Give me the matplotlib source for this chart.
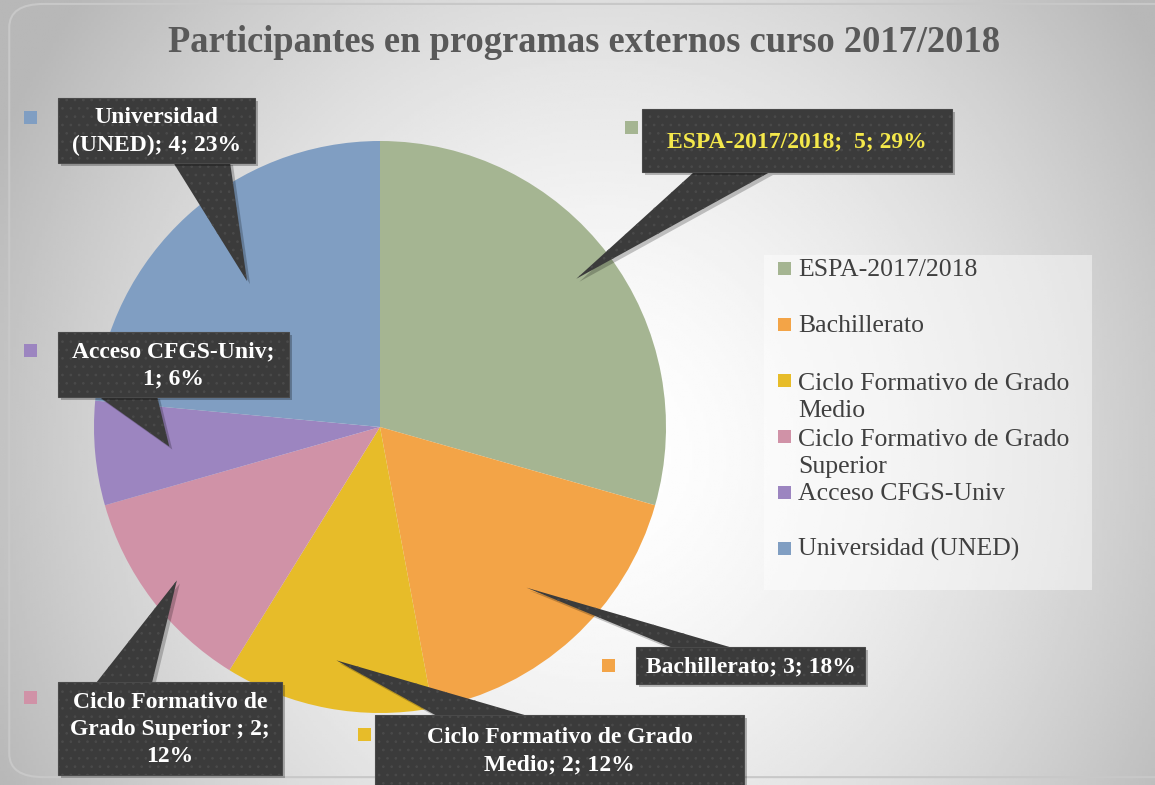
import numpy as np
import matplotlib.pyplot as plt
from matplotlib.patches import Rectangle, FancyBboxPatch, Polygon

plt.rcParams['font.family'] = ['Liberation Serif', 'DejaVu Serif']
plt.rcParams['hatch.linewidth'] = 0.7

# Data
categorias = ['ESPA-2017/2018', 'Bachillerato', 'Ciclo Formativo de Grado Medio',
              'Ciclo Formativo de Grado Superior', 'Acceso CFGS-Univ', 'Universidad (UNED)']
valores = [5, 3, 2, 2, 1, 4]
colores = ['#a5b592', '#f3a447', '#e7bc29', '#d092a7', '#9c85c0', '#809ec2']
leyenda = ['ESPA-2017/2018', 'Bachillerato', 'Ciclo Formativo de Grado\nMedio',
           'Ciclo Formativo de Grado\nSuperior', 'Acceso CFGS-Univ', 'Universidad (UNED)']
etiquetas = ['ESPA-2017/2018;  {v}; {p}%', 'Bachillerato; {v}; {p}%',
             'Ciclo Formativo de Grado\nMedio; {v}; {p}%',
             'Ciclo Formativo de\nGrado Superior ; {v};\n{p}%',
             'Acceso CFGS-Univ;\n{v}; {p}%', 'Universidad\n(UNED); {v}; {p}%']

W, H = 1155, 785
def fx(x):
    return x / W
def fy(y):
    return 1 - y / H

# percentages that add up to 100 (largest remainder)
total = sum(valores)
raw = np.array(valores) / total * 100
pct = np.floor(raw).astype(int)
for k in np.argsort(-(raw - pct))[:100 - pct.sum()]:
    pct[k] += 1

fig = plt.figure(figsize=(W / 100, H / 100), dpi=100)

# background: radial gray gradient
bg = fig.add_axes([0, 0, 1, 1], zorder=0)
gx, gy = np.meshgrid(np.linspace(0, 1, 400), np.linspace(0, 1, 300))
d = np.sqrt(((gx - 0.52) / 0.5) ** 2 + ((gy - 0.58) / 0.8) ** 2)
val = np.clip(1.0 - 0.22 * d ** 1.6, 0.72, 1)
bg.imshow(val, cmap='gray', vmin=0, vmax=1, extent=[0, 1, 0, 1], aspect='auto')
bg.set_xlim(0, 1)
bg.set_ylim(0, 1)
bg.axis('off')
bg.add_patch(FancyBboxPatch((0.008, 0.01), 1.05, 0.985, boxstyle='round,pad=0,rounding_size=0.03',
                            fc='none', ec='#c8c8c8', lw=1.5, transform=bg.transAxes))

fig.text(fx(584), fy(43), 'Participantes en programas externos curso 2017/2018',
         ha='center', va='center', fontsize=26.3, fontweight='bold', color='#595959')

# pie
cx, cy, r = 380, 427, 286
ax = fig.add_axes([fx(cx - r), fy(cy + r), 2 * r / W, 2 * r / H], zorder=1)
ax.patch.set_alpha(0)
wedges, _ = ax.pie(valores, colors=colores, startangle=90, counterclock=False,
                   wedgeprops=dict(linewidth=0))
ax.set_xlim(-1, 1)
ax.set_ylim(-1, 1)
ax.set_aspect('equal')

# data labels: callout boxes (x0, x1, y0, y1 in pixels), pointer base and tip radius
cajas = [(642, 952, 109, 172), (636, 865, 647, 684), (375, 744, 715, 792),
         (58, 282, 682, 775), (58, 289, 332, 397), (58, 255, 98, 163)]
bases = [((694, 172), (770, 172)), ((673, 648), (733, 648)), ((437, 716), (528, 716)),
         ((96, 683), (152, 683)), ((98, 396), (157, 396)), ((173, 162), (230, 162))]
radio_punta = [0.86, 0.76, 0.83, 0.89, 0.74, 0.69]
cuadros = [(631, 127), (608, 665), (364, 734), (30, 697), (30, 350), (30, 117)]
oscuro = '#3b3b3b'
sx, sy = 3 / W, -3 / H
to_fig = fig.transFigure.inverted()
for i, w in enumerate(wedges):
    ang = np.deg2rad((w.theta1 + w.theta2) / 2)
    rp = radio_punta[i]
    tip = to_fig.transform(ax.transData.transform((rp * np.cos(ang), rp * np.sin(ang))))
    (b1, b2) = bases[i]
    pts = np.array([(fx(b1[0]), fy(b1[1])), (fx(b2[0]), fy(b2[1])), tuple(tip)])
    fig.add_artist(Polygon(pts + [sx, sy], closed=True, fc='black', alpha=0.22, lw=0,
                           transform=fig.transFigure, zorder=5))
    fig.add_artist(Polygon(pts, closed=True, fc=oscuro, ec='#4a4a4a', lw=0, hatch='..',
                           transform=fig.transFigure, zorder=5))
    x0, x1, y0, y1 = cajas[i]
    fig.add_artist(Rectangle((fx(x0) + sx, fy(y1) + sy), (x1 - x0) / W, (y1 - y0) / H, fc='black',
                             alpha=0.25, lw=0, transform=fig.transFigure, zorder=5))
    fig.add_artist(Rectangle((fx(x0), fy(y1)), (x1 - x0) / W, (y1 - y0) / H, fc=oscuro, ec='#4a4a4a',
                             lw=0.8, hatch='..', transform=fig.transFigure, zorder=6))
    txt = etiquetas[i].format(v=valores[i], p=pct[i])
    color_t = '#f4e84b' if i == 0 else 'white'
    fig.text(fx((x0 + x1) / 2), fy((y0 + min(y1, 785)) / 2 + 1), txt, ha='center', va='center',
             fontsize=17, fontweight='bold', color=color_t, linespacing=1.38, zorder=7)
    qx, qy = cuadros[i]
    fig.add_artist(Rectangle((fx(qx - 6.5), fy(qy + 6.5)), 13 / W, 13 / H, fc=colores[i], ec='none',
                             transform=fig.transFigure, zorder=4))

# legend
fig.add_artist(Rectangle((fx(764), fy(590)), 328 / W, 335 / H, fc='white', alpha=0.45, ec='none',
                         transform=fig.transFigure, zorder=2))
lh = 29
for i, lab in enumerate(leyenda):
    yc = 268 + 56 * i
    n = lab.count('\n')
    fig.add_artist(Rectangle((fx(778), fy(yc + 6.5)), 13 / W, 13 / H, fc=colores[i], ec='none',
                             transform=fig.transFigure, zorder=3))
    fig.text(fx(798), fy(yc + 8 + n * lh), lab, ha='left', va='baseline', fontsize=18.5,
             color='#404040', linespacing=1.31, zorder=3)

fig.savefig('out.png', dpi=100)
